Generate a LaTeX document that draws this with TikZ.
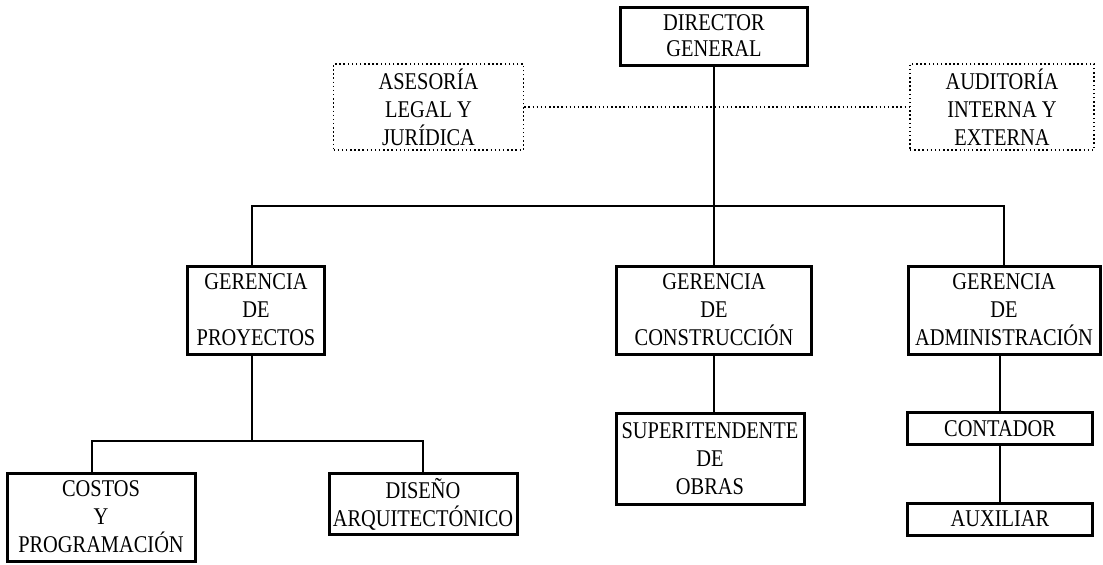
\documentclass[tikz,border=0pt]{standalone}
\usepackage{fontspec}
\setmainfont{Liberation Serif}[FakeStretch=0.85]

\tikzset{every picture/.style={line width=0.75pt}}
\tikzset{
  cargo/.style={draw, line width=2.25pt, align=center, inner sep=0pt,
    font=\fontsize{18}{21}\selectfont},
  staff/.style={draw, dotted, line width=1.1pt, align=center, inner sep=0pt,
    font=\fontsize{18}{21}\selectfont},
  liga/.style={line width=1pt},
  ligapunto/.style={dotted, line width=1.1pt}
}

\begin{document}
\begin{tikzpicture}[x=0.75pt,y=0.75pt,yscale=-1,xscale=1]
\useasboundingbox (0,0) rectangle (1103,564);

%Shape: Rectangle [id:director]
\node[cargo, minimum width=140pt, minimum height=43.5pt,
  font=\fontsize{18}{19.5}\selectfont] (dg) at (714,36) {DIRECTOR\\GENERAL};
%Shape: Rectangle [id:asesoria]
\node[staff, minimum width=142.5pt, minimum height=64.5pt] (ase) at (428.5,107) {ASESORÍA\\LEGAL Y\\JURÍDICA};
%Shape: Rectangle [id:auditoria]
\node[staff, minimum width=138pt, minimum height=64.5pt] (aud) at (1002,107) {AUDITORÍA\\INTERNA Y\\EXTERNA};

%Shape: Rectangle [id:gerencias]
\node[cargo, minimum width=103pt, minimum height=66pt] (gp) at (256,310) {GERENCIA\\DE\\PROYECTOS};
\node[cargo, minimum width=146pt, minimum height=66pt] (gc) at (714,310) {GERENCIA\\DE\\CONSTRUCCIÓN};
\node[cargo, minimum width=144pt, minimum height=66pt] (ga) at (1004,310) {GERENCIA\\DE\\ADMINISTRACIÓN};

%Shape: Rectangle [id:proyectos]
\node[cargo, minimum width=141pt, minimum height=66pt] (cp) at (101,517) {COSTOS\\Y\\PROGRAMACIÓN};
\node[cargo, minimum width=141pt, minimum height=46pt] (dis) at (423,504) {DISEÑO\\ARQUITECTÓNICO};

%Shape: Rectangle [id:construccion]
\node[cargo, minimum width=141pt, minimum height=68pt] (sup) at (710,459) {SUPERITENDENTE\\DE\\OBRAS};

%Shape: Rectangle [id:administracion]
\node[cargo, minimum width=139pt, minimum height=24.5pt] (con) at (1000,428.5) {CONTADOR};
\node[cargo, minimum width=139pt, minimum height=24pt] (aux) at (1000,519) {AUXILIAR};

%Straight Lines [id:bus]
\coordinate (bus) at (714,206);
\coordinate (pbus) at (252,441);

\draw[liga] (dg) -- (gc);
\draw[ligapunto] (ase) -- (aud);
\draw[liga] (gp.north -| pbus) |- (bus) -| (ga);
\draw[liga] (gp.south -| pbus) -- (pbus);
\draw[liga] (cp.north -| 92,0) |- (pbus) -| (dis);
\draw[liga] (gc) -- (gc.south |- sup.north);
\draw[liga] (ga.south -| con) -- (con);
\draw[liga] (con) -- (aux);

\end{tikzpicture}
\end{document}
